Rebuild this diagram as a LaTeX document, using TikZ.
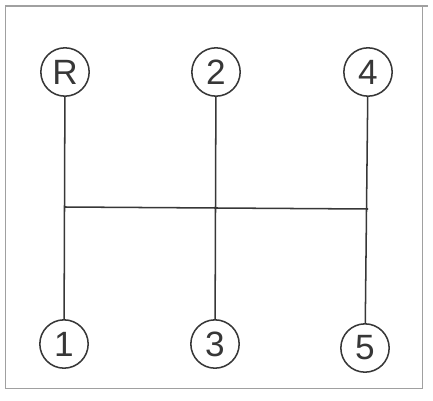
\documentclass[tikz,border=0pt]{standalone}
\usepackage{fontspec}
\setsansfont{Liberation Sans}
\usepackage{xcolor}
\usepackage{tikz}
\usetikzlibrary{positioning, calc}
\definecolor{pencil}{RGB}{55, 55, 55}
\definecolor{framegray}{RGB}{160, 160, 160}
\tikzstyle{gear} = [circle, draw=pencil, line width=1.3pt, minimum size=1.45cm, inner sep=0pt, font=\sffamily\fontsize{30}{32}\selectfont, text=pencil]
\tikzstyle{rod} = [draw=pencil, line width=1.3pt]

\begin{document}
\begin{tikzpicture}[x=0.03cm, y=-0.03cm]
    \useasboundingbox (0,0) rectangle (433,400);
    % Frame
    \draw[framegray, line width=1pt] (5,6) -- (428,6);
    \draw[framegray, line width=0.8pt] (5,6) -- (5,388) -- (422,388) -- (422,6);

    % Gear positions
    \node[gear] (gR) at (65,72) {R};
    \node[gear] (g2) at (216,72) {2};
    \node[gear] (g4) at (368,72) {4};
    \node[gear] (g1) at (64,344) {1};
    \node[gear] (g3) at (215,344) {3};
    \node[gear] (g5) at (365,348) {5};

    % Shift gate
    \coordinate (hL) at (65,207);
    \coordinate (hR) at (368,209);
    \draw[rod] (hL) -- (hR);
    \foreach \a/\b in {gR/g1, g2/g3, g4/g5} {
        \draw[rod] (\a) -- (\b);
    }
\end{tikzpicture}
\end{document}
